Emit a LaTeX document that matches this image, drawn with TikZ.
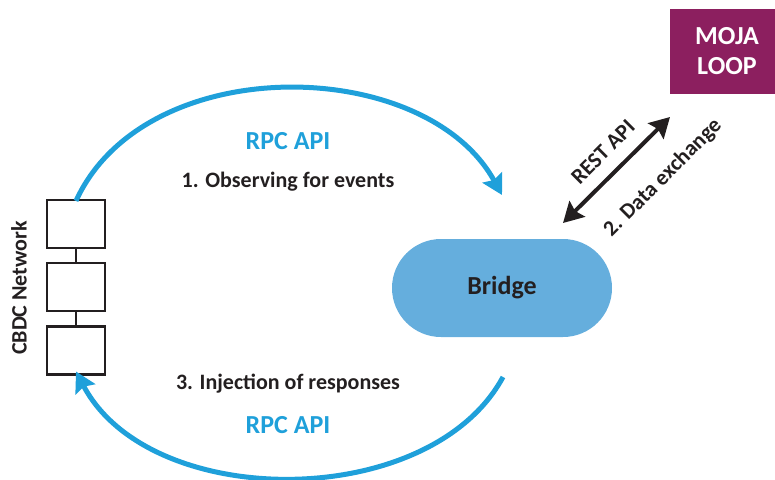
\documentclass[tikz,border=0pt]{standalone}
\usepackage{fontspec}
\setmainfont{Carlito}
\usetikzlibrary{positioning,arrows.meta}
\definecolor{rpcblue}{HTML}{1FA0DA}
\definecolor{bridgeblue}{HTML}{65AEDD}
\definecolor{mojaplum}{HTML}{8C1F5F}
\definecolor{ink}{HTML}{231F20}

\begin{document}
\begin{tikzpicture}[x=1pt,y=-1pt,node distance=13pt,
  every node/.style={font=\fontsize{22}{26}\selectfont\bfseries,text=ink},
  block/.style={draw=ink,line width=2.2pt,minimum width=58pt,minimum height=48pt,inner sep=0pt},
  rpc/.style={rpcblue,line width=5pt,-{Stealth[length=20pt,width=22pt,inset=3pt]}},
  big/.style={font=\fontsize{26}{30}\selectfont\bfseries}]
  \useasboundingbox (0,0) rectangle (775,479);
  % CBDC chain
  \node[block] (b1) at (76,224) {};
  \node[block,below=of b1] (b2) {};
  \node[block,below=of b2] (b3) {};
  \draw[ink,line width=2pt] (b1) -- (b2) (b2) -- (b3);
  \node[rotate=90] (net) at (19,288) {CBDC Network};
  % bridge and mojaloop
  \node[big,fill=bridgeblue,rounded corners=49pt,minimum width=220pt,minimum height=98pt] (bridge) at (502,288) {Bridge};
  \node[big,fill=mojaplum,text=white,minimum width=106pt,minimum height=85pt,align=center,inner sep=0pt] (moja) at (723,51.5) {\hspace*{8pt}MOJA\\\hspace*{8pt}LOOP};
  \coordinate (obs) at (502,195);
  \coordinate (inj) at (503,377);
  \coordinate (restA) at (563,223);
  \coordinate (restB) at (670,117);
  % rpc loops
  \draw[rpc] ([yshift=-2pt]b1.north) .. controls (145,50) and (425,55) .. (obs);
  \draw[rpc] (inj) .. controls (430,512) and (150,512) .. ([yshift=4pt]b3.south);
  \node[big,text=rpcblue] (rpc1) at (288,141) {RPC API};
  \node (ev) at (288,182) {1. Observing for events};
  \node (resp) at (288,384) {3. Injection of responses};
  \node[big,text=rpcblue] (rpc2) at (288,425) {RPC API};
  % rest exchange
  \draw[ink,line width=4pt,{Stealth[length=20pt,width=22pt,inset=3pt]}-{Stealth[length=20pt,width=22pt,inset=3pt]}] (restA) -- (restB);
  \node[rotate=45] (rest) at (603,152) {REST API};
  \node[rotate=45] (data) at (663,178) {2. Data exchange};
\end{tikzpicture}
\end{document}
